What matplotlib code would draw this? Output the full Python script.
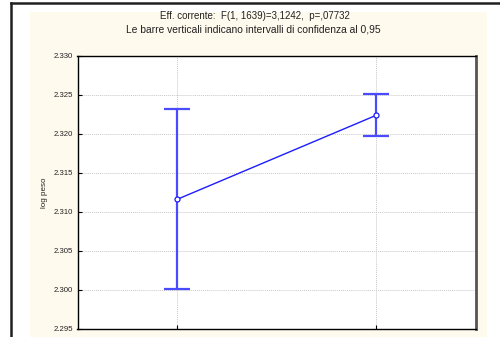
import matplotlib
matplotlib.use("Agg")
import matplotlib.pyplot as plt
from matplotlib.lines import Line2D
from matplotlib.patches import Rectangle

plt.rcParams['font.family'] = ['Liberation Sans', 'DejaVu Sans']

# Means and 95% confidence limits of log peso for the two groups
groups = ["1", "2"]
means = [2.3116, 2.3224]
ci_low = [2.3001, 2.3197]
ci_high = [2.3232, 2.3251]
yticks = [2.295, 2.300, 2.305, 2.310, 2.315, 2.320, 2.325, 2.330]
ytick_labels = ["2.295", "2.300", "2.305", "2.310", "2.315", "2.320", "2.325", "2.330"]
title_lines = ["Eff. corrente:  F(1, 1639)=3,1242,  p=,07732",
               "Le barre verticali indicano intervalli di confidenza al 0,95"]
ylabel = "log peso"

W, H = 500, 337
fig = plt.figure(figsize=(W / 100, H / 100), dpi=100)
fig.patch.set_facecolor("white")

# cream panel behind the plot
fig.patches.append(Rectangle((30 / W, 0), (487 - 30) / W, (H - 12) / H,
                             transform=fig.transFigure, facecolor="#fffaee",
                             edgecolor="none", zorder=-5))
# outer window frame
fig.lines.append(Line2D([11 / W, 11 / W], [0, 1 - 2.5 / H], transform=fig.transFigure,
                        color="#202020", lw=1.8, zorder=-4))
fig.lines.append(Line2D([11 / W, 1], [1 - 2.5 / H, 1 - 2.5 / H], transform=fig.transFigure,
                        color="#202020", lw=1.8, zorder=-4))

left, right, top, bottom = 77.5, 476, 56, 328.7
ax = fig.add_axes([left / W, 1 - bottom / H, (right - left) / W, (bottom - top) / H])
ax.set_zorder(1)
ax.set_facecolor("white")

x = list(range(len(groups)))
err_lo = [m - l for m, l in zip(means, ci_low)]
err_hi = [h - m for m, h in zip(means, ci_high)]

ax.errorbar(x, means, yerr=[err_lo, err_hi], fmt="none", ecolor="#4a4aff",
            elinewidth=1.6, capsize=9.5, capthick=1.6, zorder=3)
ax.plot(x, means, color="#1c1cff", lw=1.0, marker="o", ms=3.6,
        mfc="white", mec="#1c1cff", mew=0.9, zorder=4)

ax.set_xlim(-0.5, 1.5)
ax.set_ylim(2.295, 2.330)
ax.set_xticks(x)
ax.set_xticklabels([])
ax.set_yticks(yticks)
ax.set_yticklabels(ytick_labels, fontsize=5.6, color="#222222")
ax.tick_params(direction="in", length=3, width=0.8, pad=3)
ax.grid(True, color="#c8c8c8", linestyle=(0, (1, 1)), lw=0.7)
ax.set_axisbelow(True)

for s in ax.spines.values():
    s.set_color("black")
    s.set_linewidth(1.0)
ax.spines["right"].set_linewidth(2.0)
ax.spines["right"].set_color("#555555")

ax.set_ylabel(ylabel, fontsize=5.8, color="#222222", labelpad=4)

fig.text(255 / W, 1 - 16 / H, title_lines[0], ha="center", va="center",
         fontsize=7.0, color="#222222")
fig.text(253 / W, 1 - 29 / H, title_lines[1], ha="center", va="center",
         fontsize=7.4, color="#222222")

fig.savefig("out.png", dpi=100, facecolor="white")
